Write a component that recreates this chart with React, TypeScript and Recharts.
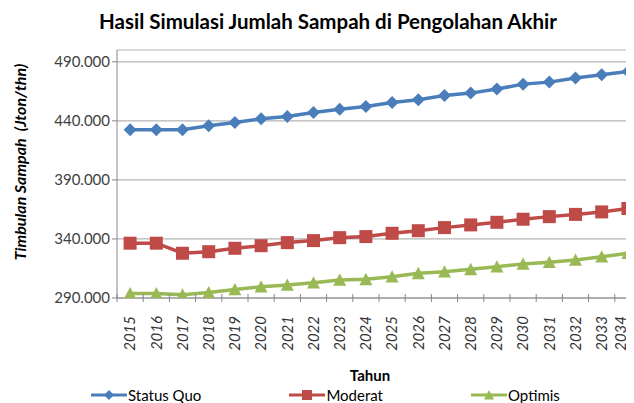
import React from 'react';
import { LineChart, Line, XAxis, YAxis, CartesianGrid, Legend } from 'recharts';

const years = ['2015', '2016', '2017', '2018', '2019', '2020', '2021', '2022', '2023', '2024', '2025', '2026', '2027', '2028', '2029', '2030', '2031', '2032', '2033', '2034'];
const statusQuo = [432400, 432400, 432400, 435800, 438600, 441700, 443700, 447000, 449900, 452100, 455500, 457800, 461500, 463500, 466900, 471100, 472800, 476200, 479000, 481800];
const moderat = [336400, 336400, 327900, 329200, 332100, 334300, 336900, 338600, 341100, 342000, 344800, 347000, 349600, 351900, 354100, 356700, 358900, 360800, 362900, 365800];
const optimis = [293800, 293800, 292800, 294600, 297200, 299600, 301000, 303000, 305300, 305800, 308000, 310900, 312300, 314300, 316500, 318800, 320300, 322200, 325000, 327900];
const yTicks = [290000, 340000, 390000, 440000, 490000];
const yDomain = [290000, 500000];

const seriesNames = ['Status Quo', 'Moderat', 'Optimis'];
const colors = { sq: '#4A7EBB', mo: '#BE4B48', op: '#98B954' };

const data = years.map((y, i) => ({ year: y, sq: statusQuo[i], mo: moderat[i], op: optimis[i] }));

const FONT = 'Lato, "Open Sans", sans-serif';
const LABEL_MAX_X = 613;

const fmt = (v: number) => String(v).replace(/\B(?=(\d{3})+(?!\d))/g, '.');

const Diamond = ({ cx, cy, fill, r = 6.5 }: any) => (
  <polygon points={`${cx},${cy - r} ${cx + r},${cy} ${cx},${cy + r} ${cx - r},${cy}`} fill={fill} />
);
const Square = ({ cx, cy, fill, r = 6.5 }: any) => (
  <rect x={cx - r} y={cy - r} width={2 * r} height={2 * r} fill={fill} />
);
const Triangle = ({ cx, cy, fill, r = 6.5 }: any) => (
  <polygon points={`${cx},${cy - r} ${cx + r},${cy + r * 0.9} ${cx - r},${cy + r * 0.9}`} fill={fill} />
);

const shapes: any = { sq: Diamond, mo: Square, op: Triangle };

const makeDot = (key: string) => (props: any) => {
  const S = shapes[key];
  if (props.cx == null || props.cy == null) return <g key={props.key} />;
  return <S key={props.key} cx={props.cx} cy={props.cy} fill={(colors as any)[key]} />;
};

const XTick = (props: any) => {
  const { x, y, payload, index } = props;
  const off = payload && payload.offset ? payload.offset : 0;
  const tx = Math.min(x, LABEL_MAX_X);
  return (
    <g>
      <line x1={x + off} x2={x + off} y1={y - 4} y2={y + 4} stroke="#868686" strokeWidth={1} />
      {index === 0 ? <line x1={x - off} x2={x - off} y1={y - 4} y2={y + 4} stroke="#868686" strokeWidth={1} /> : null}
      <text
        x={tx}
        y={y + 18}
        transform={`rotate(-90, ${tx}, ${y + 18})`}
        textAnchor="end"
        dy="0.35em"
        fontSize={15}
        fontStyle="italic"
        fontFamily={FONT}
        fill="#333"
      >
        {payload.value}
      </text>
    </g>
  );
};

const YLabel = () => (
  <text
    x={12}
    y={154}
    transform="rotate(-90, 12, 154)"
    textAnchor="middle"
    dy="0.35em"
    fontSize={16}
    fontWeight="bold"
    fontStyle="italic"
    fontFamily={FONT}
    fill="#000"
    style={{ whiteSpace: 'pre' }}
  >
    {'Timbulan Sampah\u00a0\u00a0(Jton/thn)'}
  </text>
);

const LegendContent = () => {
  const keys = ['sq', 'mo', 'op'];
  return (
    <div style={{ display: 'flex', alignItems: 'center', gap: 88, fontFamily: FONT, fontSize: 15, color: '#000', height: 16 }}>
      {keys.map((k, i) => {
        const S = shapes[k];
        return (
          <div key={k} style={{ display: 'flex', alignItems: 'center' }}>
            <svg width={36} height={16}>
              <line x1={0} x2={36} y1={8} y2={8} stroke={(colors as any)[k]} strokeWidth={3} />
              <S cx={18} cy={8} fill={(colors as any)[k]} r={5} />
            </svg>
            <span style={{ marginLeft: 1, lineHeight: '16px' }}>{seriesNames[i]}</span>
          </div>
        );
      })}
    </div>
  );
};

export default function App() {
  return (
    <div style={{ position: 'relative', width: 626, height: 395, overflow: 'hidden', background: '#fff' }}>
      <div
        style={{
          position: 'absolute',
          top: 3,
          left: 0,
          width: 640,
          textAlign: 'center',
          fontFamily: FONT,
          fontWeight: 'bold',
          fontSize: 20.5,
          lineHeight: '21px',
          color: '#000',
          zIndex: 2,
        }}
      >
        Hasil Simulasi Jumlah Sampah di Pengolahan Akhir
      </div>
      <LineChart width={650} height={395} data={data} margin={{ top: 42, right: 17, bottom: 0, left: 0 }}>
        <CartesianGrid vertical={false} stroke="#B3B3B3" strokeWidth={1.2} />
        <XAxis
          dataKey="year"
          scale="band"
          height={89}
          tickSize={0}
          tickMargin={0}
          tickLine={false}
          axisLine={{ stroke: '#868686' }}
          interval={0}
          tick={<XTick />}
          label={{ value: 'Tahun', position: 'insideBottom', offset: 6, dx: -9, fontSize: 15, fontWeight: 'bold', fontFamily: FONT, fill: '#000' }}
        />
        <YAxis
          width={109}
          domain={yDomain}
          ticks={yTicks}
          type="number"
          allowDataOverflow
          tickSize={5}
          tickMargin={2}
          axisLine={{ stroke: '#868686' }}
          tickLine={{ stroke: '#868686' }}
          tick={{ fontSize: 15, fontFamily: FONT, fill: '#404040' }}
          tickFormatter={fmt}
          label={<YLabel />}
        />
        <Legend verticalAlign="bottom" height={16} content={<LegendContent />} wrapperStyle={{ left: 83, bottom: 0, width: 560, height: 16 }} />
        <Line dataKey="sq" name={seriesNames[0]} stroke={colors.sq} strokeWidth={3.5} dot={makeDot('sq')} activeDot={false} isAnimationActive={false} />
        <Line dataKey="mo" name={seriesNames[1]} stroke={colors.mo} strokeWidth={3.5} dot={makeDot('mo')} activeDot={false} isAnimationActive={false} />
        <Line dataKey="op" name={seriesNames[2]} stroke={colors.op} strokeWidth={3.5} dot={makeDot('op')} activeDot={false} isAnimationActive={false} />
      </LineChart>
    </div>
  );
}
